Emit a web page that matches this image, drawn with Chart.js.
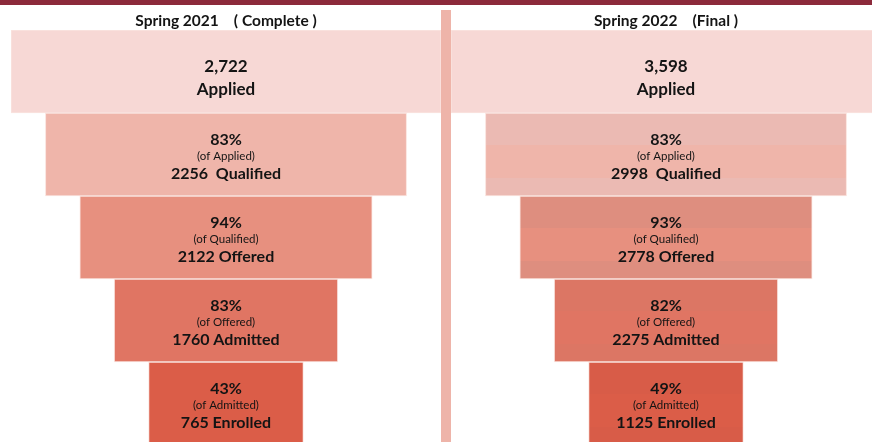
<!DOCTYPE html>
<html><head><meta charset="utf-8">
<script src="https://cdn.jsdelivr.net/npm/chart.js@4.4.1/dist/chart.umd.min.js"></script>
<style>
html,body{margin:0;padding:0;background:#fff;overflow:hidden;width:872px;height:442px;position:relative;}
#topline{position:absolute;left:0;top:0;width:872px;height:5px;background:#8C2A3B;}
#divider{position:absolute;left:441px;top:10px;width:10px;height:440px;background:#EEB4A9;}
.wrap{position:absolute;top:8px;width:430px;height:437px;}
</style></head>
<body>
<div id="topline"></div>
<div id="divider"></div>
<div class="wrap" style="left:11px"><canvas id="c1"></canvas></div>
<div class="wrap" style="left:451px"><canvas id="c2"></canvas></div>
<script>
// ---- data ----
const stages = ['Applied', 'Qualified', 'Offered', 'Admitted', 'Enrolled'];
const counts2021 = [2722, 2256, 2122, 1760, 765];
const counts2022 = [3598, 2998, 2778, 2275, 1125];
const pct2021 = [null, 83, 94, 83, 43];
const pct2022 = [null, 83, 93, 82, 49];
const titles = ['Spring 2021    ( Complete )', 'Spring 2022    (Final )'];

// ---- styling ----
const stageWidth = [1, 0.84, 0.68, 0.52, 0.36];   // funnel shape (relative width)
const countSep = ['', '  ', ' ', ' ', ' '];
const fills = ['#F7D8D5', '#EFB5AA', '#E7907F', '#E07563', '#DB5D48'];
const bandFills = [null, '#EBBAB3', '#DE8E7F', '#DC7664', '#D85C48'];
const FONT = 'Lato';
const TXT = '#141414';

const labelPlugin = {
  id: 'funnelLabels',
  afterDatasetsDraw(chart, args, opts) {
    const ctx = chart.ctx;
    const meta = chart.getDatasetMeta(0);
    ctx.save();
    ctx.fillStyle = TXT;
    ctx.textAlign = 'center';
    ctx.textBaseline = 'middle';
    meta.data.forEach((el, i) => {
      const p = el.getProps(['x', 'y', 'base'], true);
      const cx = (p.x + p.base) / 2, cy = p.y;
      const count = opts.counts[i];
      if (i === 0) {
        ctx.font = 'bold 17px ' + FONT;
        ctx.fillText(count.toLocaleString('en-US'), cx, cy - 5);
        ctx.fillText(stages[i], cx, cy + 18);
      } else {
        ctx.font = 'bold 16px ' + FONT;
        ctx.fillText(opts.pcts[i] + '%', cx, cy - 15);
        ctx.font = '11.5px ' + FONT;
        ctx.fillText('(of ' + stages[i - 1] + ')', cx, cy + 1.5);
        ctx.font = 'bold 16px ' + FONT;
        ctx.fillText(count + countSep[i] + stages[i], cx, cy + 19);
      }
    });
    ctx.restore();
  }
};

const bandPlugin = {
  id: 'bands',
  beforeDatasetsDraw(chart, args, opts) {
    if (!opts.enabled) return;
    const ctx = chart.ctx;
    chart.getDatasetMeta(0).data.forEach((el, i) => {
      if (!bandFills[i]) return;
      const p = el.getProps(['y', 'height'], true);
      const top = p.y - p.height / 2, h = p.height;
      const g = ctx.createLinearGradient(0, top, 0, top + h);
      g.addColorStop(0, bandFills[i]);
      g.addColorStop(0.38, bandFills[i]);
      g.addColorStop(0.381, fills[i]);
      g.addColorStop(0.78, fills[i]);
      g.addColorStop(0.781, bandFills[i]);
      g.addColorStop(1, bandFills[i]);
      el.options.backgroundColor = g;
    });
  }
};

function makeFunnel(id, counts, pcts, title, banded) {
  new Chart(document.getElementById(id), {
    type: 'bar',
    data: {
      labels: stages,
      datasets: [{
        data: stageWidth.map(w => [-w / 2, w / 2]),
        backgroundColor: fills,
        borderColor: 'rgba(250,225,220,0.9)',
        borderWidth: 1,
        borderSkipped: false,
        barPercentage: 1,
        categoryPercentage: 1
      }]
    },
    options: {
      indexAxis: 'y',
      responsive: true,
      maintainAspectRatio: false,
      animation: false,
      layout: { padding: 0 },
      scales: {
        x: { display: false, min: -0.5, max: 0.5 },
        y: { display: false }
      },
      plugins: {
        legend: { display: false },
        tooltip: { enabled: false },
        title: {
          display: true,
          text: title,
          color: TXT,
          font: { family: FONT, size: 15.5, weight: 'bold', lineHeight: 1.1 },
          padding: { top: 4, bottom: 1 }
        },
        funnelLabels: { counts: counts, pcts: pcts },
        bands: { enabled: banded }
      }
    },
    plugins: [bandPlugin, labelPlugin]
  });
}

makeFunnel('c1', counts2021, pct2021, titles[0], false);
makeFunnel('c2', counts2022, pct2022, titles[1], true);
</script>
</body></html>
